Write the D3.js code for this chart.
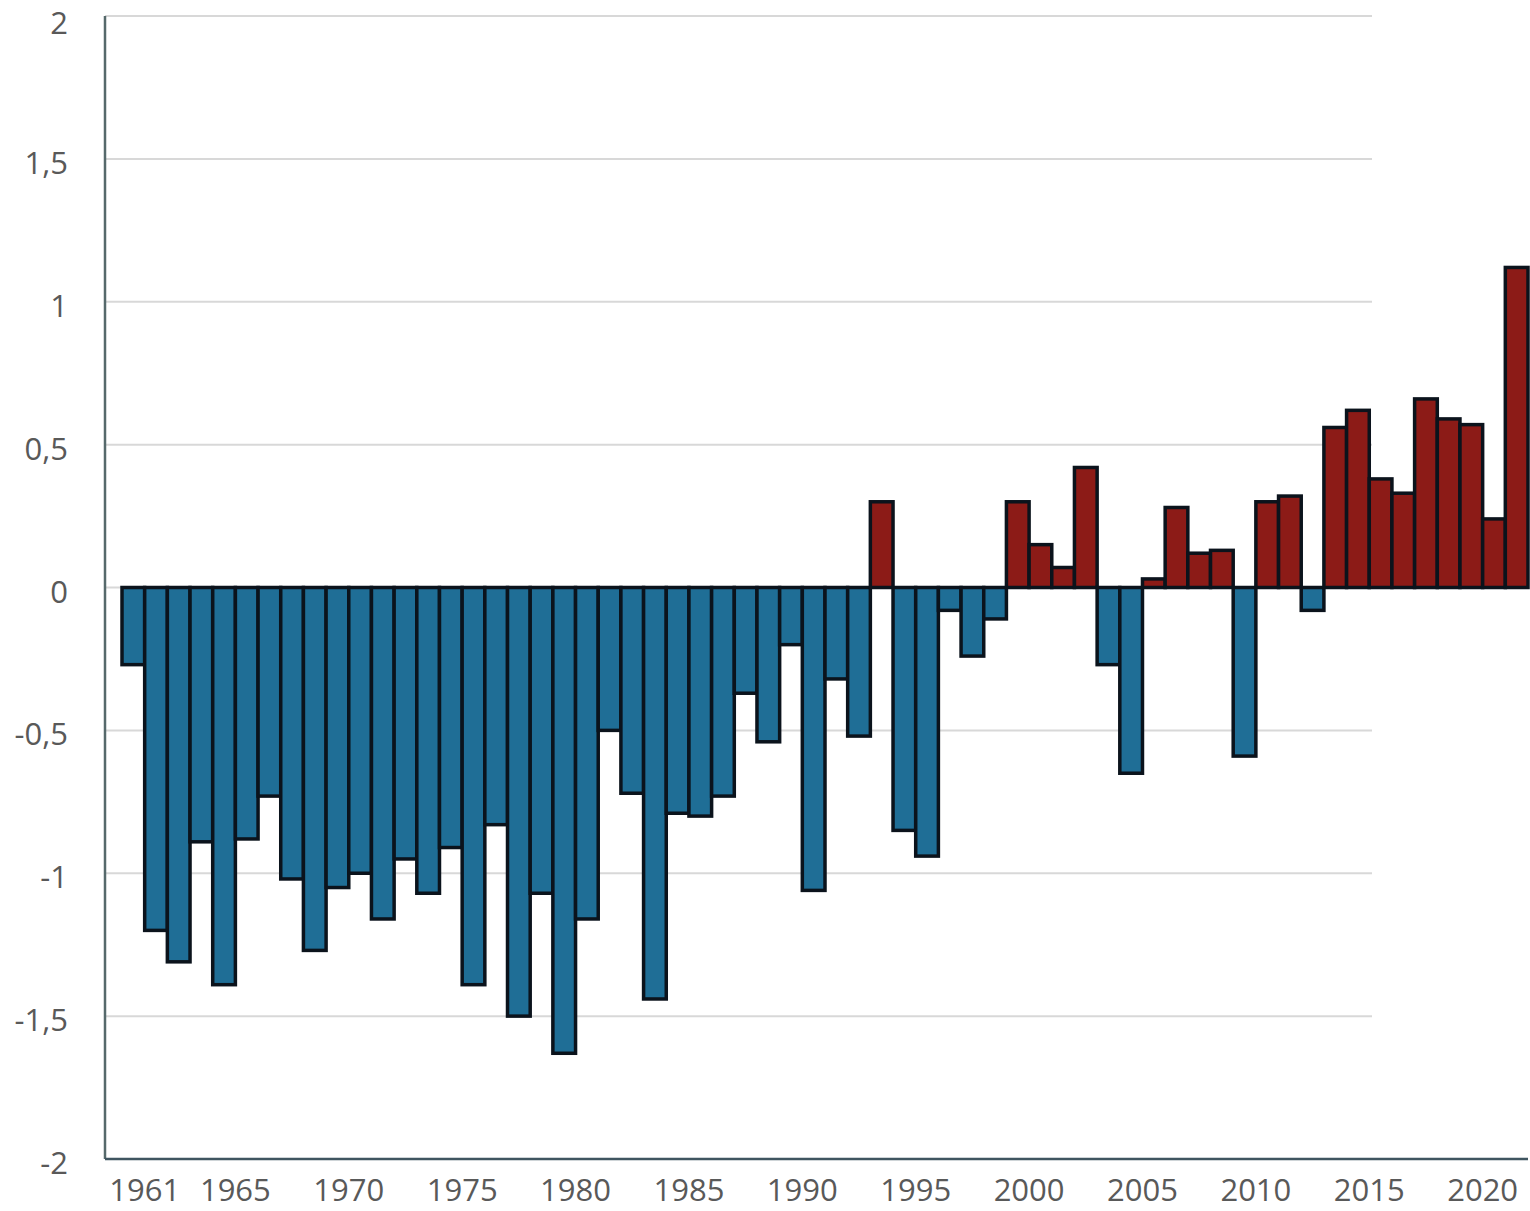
<!DOCTYPE html>
<html>
<head>
<meta charset="utf-8">
<script src="https://cdn.jsdelivr.net/npm/d3@7"></script>
<style>
  body { margin: 0; background: #fff; }
  text { font-family: "Open Sans", "DejaVu Sans", sans-serif; }
</style>
</head>
<body>
<div id="chart"></div>
<script>
const width = 1530;
const height = 1211;

// Years shown on the chart (one bar per year)
const years = d3.range(1961, 2023);

// Anomaly values
const anomalies = [
  -0.27, -1.20, -1.31, -0.89, -1.39, -0.88, -0.73, -1.02, -1.27, -1.05,
  -1.00, -1.16, -0.95, -1.07, -0.91, -1.39, -0.83, -1.50, -1.07, -1.63,
  -1.16, -0.50, -0.72, -1.44, -0.79, -0.80, -0.73, -0.37, -0.54, -0.20,
  -1.06, -0.32, -0.52, 0.30, -0.85, -0.94, -0.08, -0.24, -0.11, 0.30,
  0.15, 0.07, 0.42, -0.27, -0.65, 0.03, 0.28, 0.12, 0.13, -0.59,
  0.30, 0.32, -0.08, 0.56, 0.62, 0.38, 0.33, 0.66, 0.59, 0.57,
  0.24, 1.12
];

const yTicks = [-2, -1.5, -1, -0.5, 0, 0.5, 1, 1.5, 2];
const xTickYears = [1961, 1965, 1970, 1975, 1980, 1985, 1990, 1995, 2000, 2005, 2010, 2015, 2020];

const data = years.map((y, i) => ({ year: y, value: anomalies[i] }));

const plotLeft = 105, plotTop = 16, plotBottom = 1159;

const x = d3.scaleBand().domain(years).range([122, 1528]).padding(0);
const y = d3.scaleLinear().domain([-2, 2]).range([plotBottom, plotTop]);

// comma as decimal mark, plain hyphen for minus
const locale = d3.formatLocale({ decimal: ",", thousands: ".", grouping: [3], currency: ["", ""], minus: "-" });
const fmt = locale.format("~g");

const svg = d3.select("#chart").append("svg")
  .attr("width", width).attr("height", height);

// gridlines
svg.append("g")
  .selectAll("line")
  .data(yTicks.filter(d => d > -2))
  .join("line")
  .attr("x1", plotLeft)
  .attr("x2", 1372)
  .attr("y1", d => y(d))
  .attr("y2", d => y(d))
  .attr("stroke", "#d8d8d8")
  .attr("stroke-width", 2);

// bars
svg.append("g")
  .selectAll("rect")
  .data(data)
  .join("rect")
  .attr("x", d => x(d.year))
  .attr("width", x.bandwidth())
  .attr("y", d => y(Math.max(0, d.value)))
  .attr("height", d => Math.abs(y(d.value) - y(0)))
  .attr("fill", d => d.value >= 0 ? "#8c1b17" : "#1f6e96")
  .attr("stroke", "#0b131c")
  .attr("stroke-width", 3.5);

// axis lines
svg.append("line")
  .attr("x1", plotLeft).attr("x2", plotLeft)
  .attr("y1", plotTop).attr("y2", plotBottom)
  .attr("stroke", "#56696b").attr("stroke-width", 2.5);

svg.append("line")
  .attr("x1", plotLeft).attr("x2", 1528)
  .attr("y1", plotBottom).attr("y2", plotBottom)
  .attr("stroke", "#3f5560").attr("stroke-width", 2.5);

// y tick labels (sit a little below their gridline, as in the reference)
svg.append("g")
  .selectAll("text")
  .data(yTicks)
  .join("text")
  .attr("x", 68)
  .attr("y", d => Math.max(y(d) + 15, 34))
  .attr("text-anchor", "end")
  .attr("font-size", 31)
  .attr("fill", "#595959")
  .text(d => fmt(d));

// x tick labels
svg.append("g")
  .selectAll("text")
  .data(xTickYears)
  .join("text")
  .attr("x", d => x(d) + x.bandwidth())
  .attr("y", 1201)
  .attr("text-anchor", "middle")
  .attr("font-size", 31)
  .attr("fill", "#595959")
  .text(d => d);
</script>
</body>
</html>
